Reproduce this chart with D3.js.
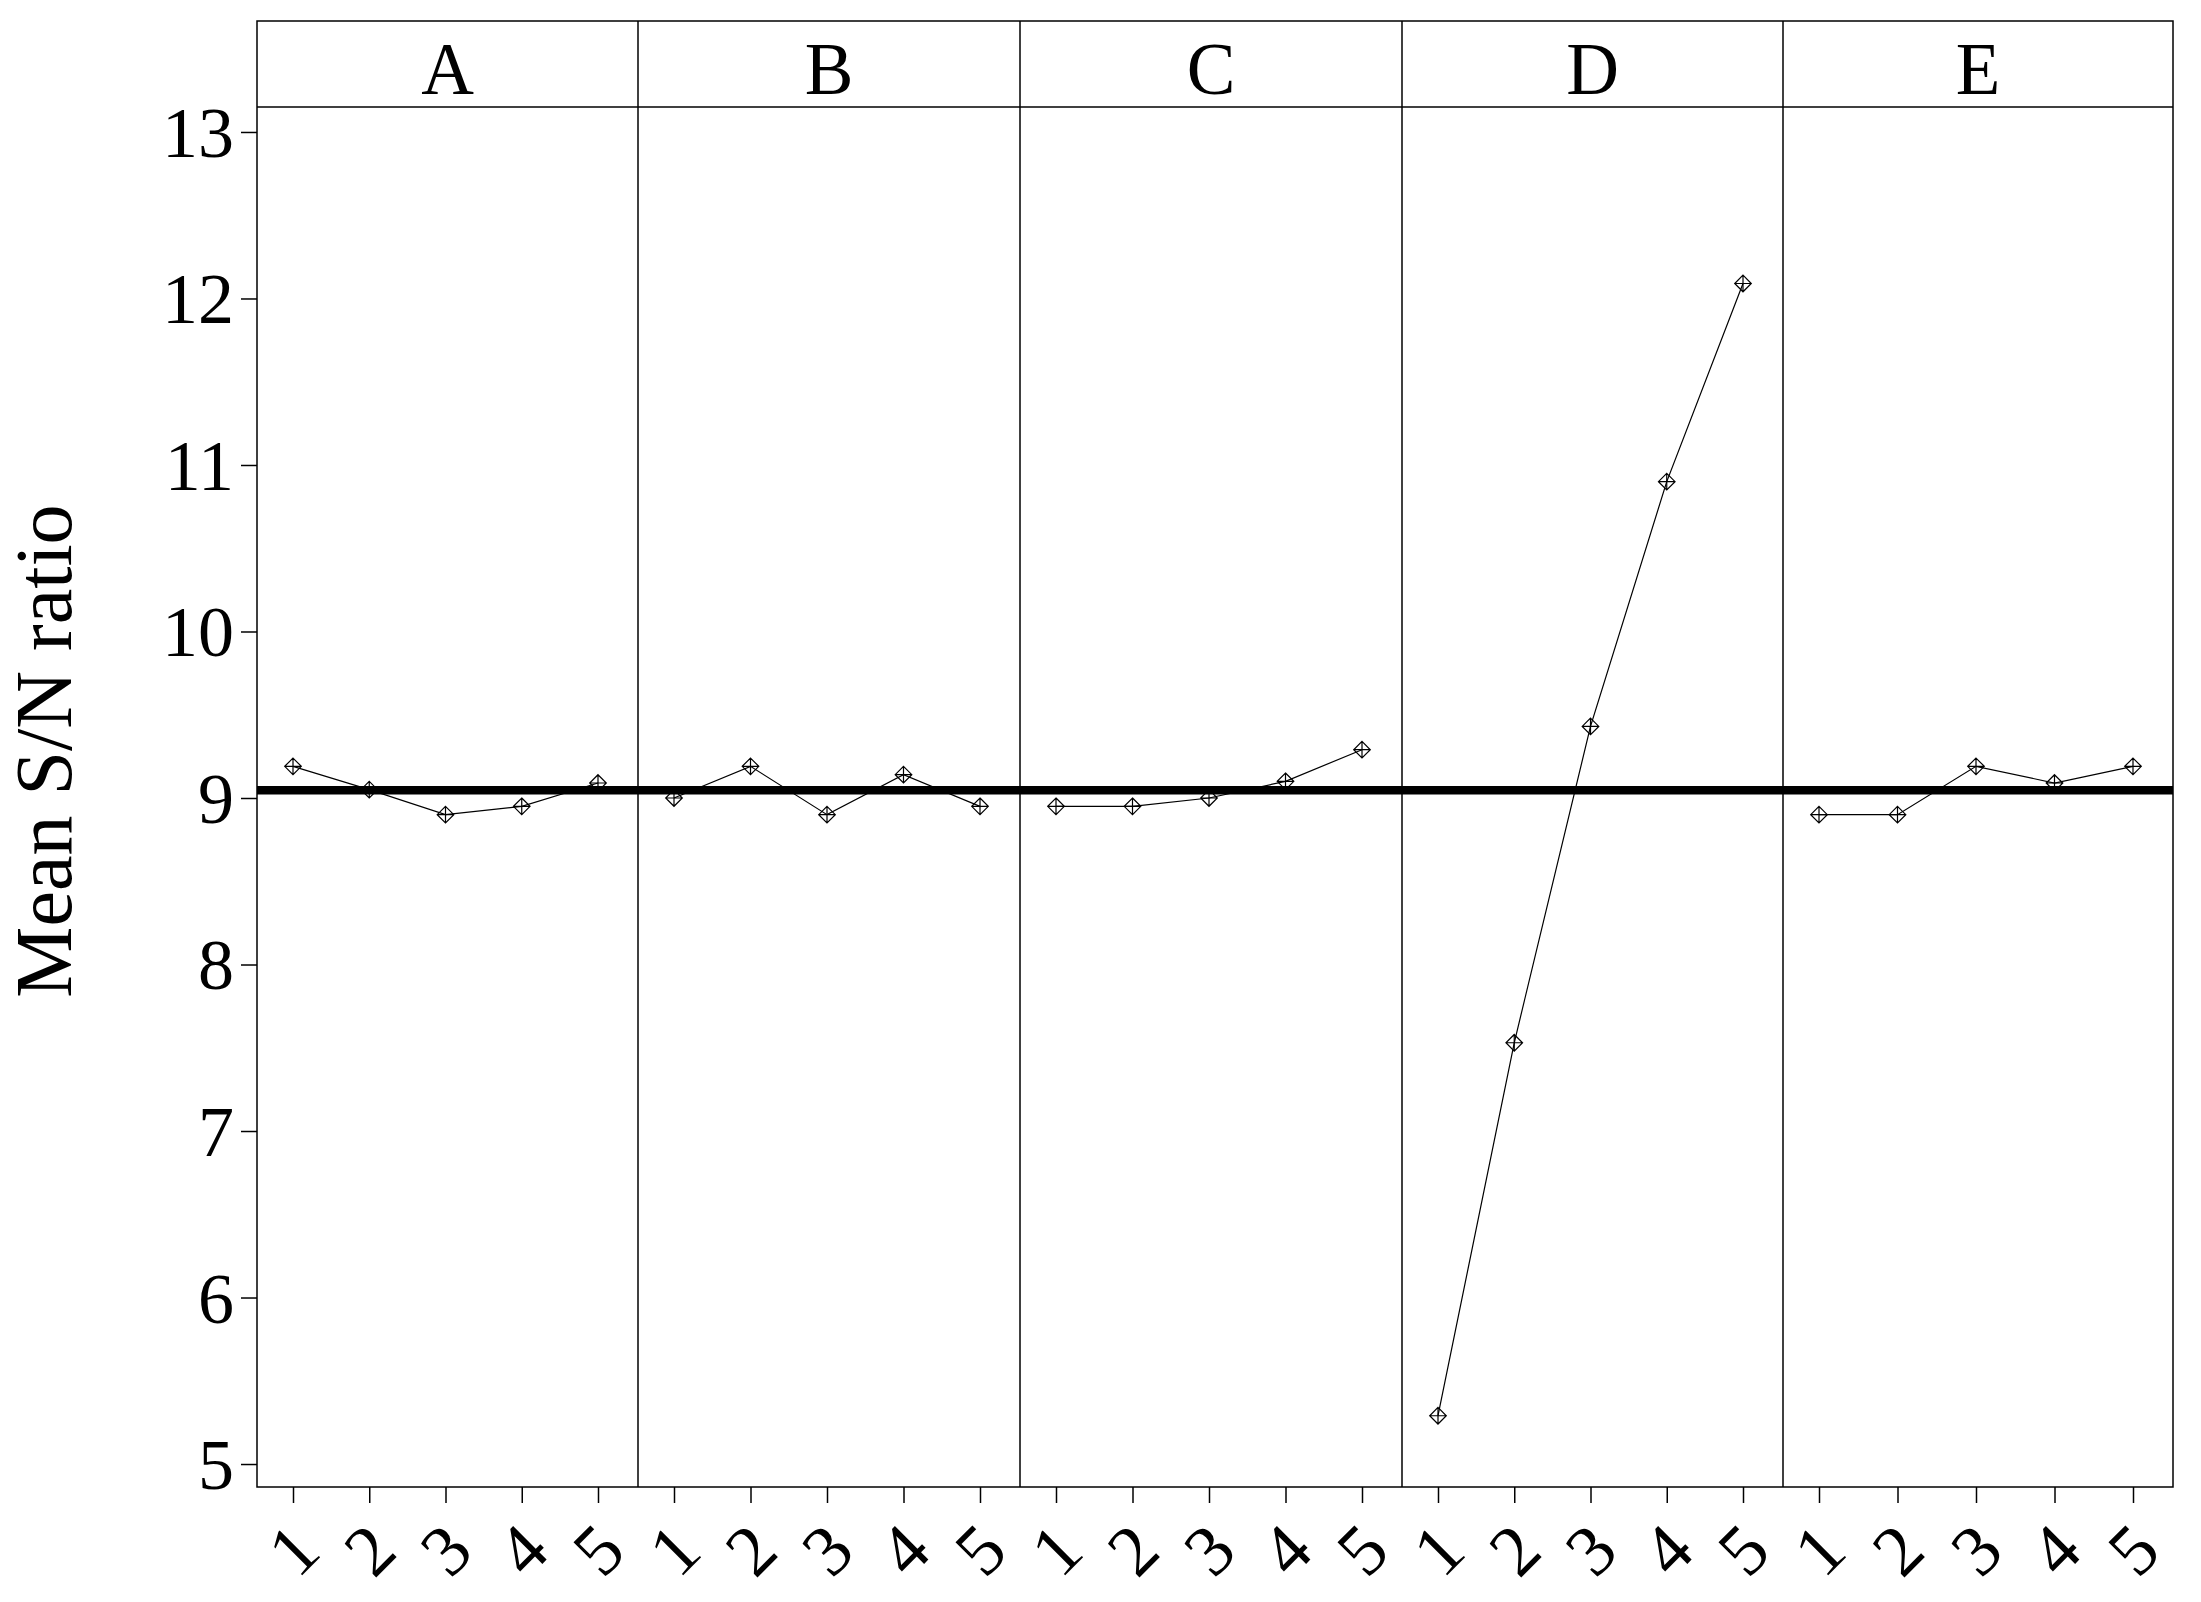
<!DOCTYPE html>
<html>
<head>
  <meta charset="UTF-8">
  <title>Main effects plot for S/N ratios</title>
  <script src="https://d3js.org/d3.v7.min.js"></script>
  <style>
    body { margin: 0; background: #fff; }
    .chart text { font-family: "Liberation Serif", "Times New Roman", serif; fill: #000; }
    .domain { display: none; }
  </style>
</head>
<body>

<div class="chart"></div>

<script>

  // data
  var factors = ['A', 'B', 'C', 'D', 'E'];
  var levels = [1, 2, 3, 4, 5];
  var snA = [9.19, 9.05, 8.90, 8.95, 9.09];
  var snB = [9.00, 9.19, 8.90, 9.14, 8.95];
  var snC = [8.95, 8.95, 9.00, 9.10, 9.29];
  var snD = [5.29, 7.53, 9.43, 10.90, 12.09];
  var snE = [8.90, 8.90, 9.19, 9.09, 9.19];
  var yTicks = [5, 6, 7, 8, 9, 10, 11, 12, 13];
  var yLabel = 'Mean S/N ratio';

  var series = [snA, snB, snC, snD, snE];
  var grandMean = d3.mean(d3.merge(series));

  // layout
  var W = 2201, H = 1602;
  var plotTop = 21, stripBottom = 107, plotBottom = 1487;
  var panelEdges = [257, 638, 1020, 1402, 1783, 2173];
  var plotLeft = panelEdges[0], plotRight = panelEdges[panelEdges.length - 1];

  var svg = d3.select('.chart')
    .append('svg')
      .attr('width', W)
      .attr('height', H);

  svg.append('rect')
    .attr('width', W)
    .attr('height', H)
    .attr('fill', '#fff');

  // Y scale
  var yScale = d3.scaleLinear()
    .domain([4.862, 13.15])
    .range([plotBottom, stripBottom]);

  var yAxis = d3.axisLeft(yScale)
    .tickValues(yTicks)
    .tickSize(16)
    .tickPadding(7)
    .tickFormat(d3.format('d'));

  var gy = svg.append('g')
    .attr('transform', `translate(${plotLeft}, 0)`)
    .call(yAxis);
  gy.selectAll('line').attr('stroke', '#000').attr('stroke-width', 1.5);
  gy.selectAll('text')
    .style('font-size', '72px')
    .attr('dy', '0.34em');

  // axis title
  svg.append('text')
    .attr('transform', 'translate(71, 751) rotate(-90)')
    .style('text-anchor', 'middle')
    .style('font-size', '80px')
    .text(yLabel);

  var panels = svg.selectAll('.panel')
    .data(factors)
    .enter()
    .append('g')
      .attr('class', 'panel')
      .attr('transform', (d, i) => `translate(${panelEdges[i]}, 0)`);

  panels.each(function (f, i) {
    var g = d3.select(this);
    var w = panelEdges[i + 1] - panelEdges[i];

    // X scale inside this panel
    var xScale = d3.scalePoint()
      .domain(levels)
      .range([36, w - 40]);

    // strip label
    g.append('text')
      .attr('x', w / 2)
      .attr('y', 94)
      .style('text-anchor', 'middle')
      .style('font-size', '73px')
      .text(f);

    // x axis
    var gx = g.append('g')
      .attr('transform', `translate(0, ${plotBottom})`)
      .call(d3.axisBottom(xScale).tickSize(16));
    gx.selectAll('line').attr('stroke', '#000').attr('stroke-width', 1.5);
    gx.selectAll('text')
      .attr('y', null)
      .attr('dy', null)
      .attr('transform', 'translate(0, 63) rotate(-45)')
      .attr('dominant-baseline', 'central')
      .style('text-anchor', 'middle')
      .style('font-size', '72px');

    // data line
    var line = d3.line()
      .x((d, j) => xScale(levels[j]))
      .y(d => yScale(d));

    g.append('path')
      .datum(series[i])
      .attr('d', line)
      .attr('fill', 'none')
      .attr('stroke', '#000')
      .attr('stroke-width', 1.2);

    // diamond markers with a cross
    var s = 8.3;
    g.selectAll('.mark')
      .data(series[i])
      .enter()
      .append('path')
        .attr('class', 'mark')
        .attr('transform', (d, j) => `translate(${xScale(levels[j])}, ${yScale(d)})`)
        .attr('d', `M0,${-s}L${s},0L0,${s}L${-s},0Z M0,${-s}V${s} M${-s},0H${s}`)
        .attr('fill', 'none')
        .attr('stroke', '#000')
        .attr('stroke-width', 1.2);
  });

  // frame, strip and panel borders
  svg.append('rect')
    .attr('x', plotLeft)
    .attr('y', plotTop)
    .attr('width', plotRight - plotLeft)
    .attr('height', plotBottom - plotTop)
    .attr('fill', 'none')
    .attr('stroke', '#000')
    .attr('stroke-width', 1.5);

  svg.append('line')
    .attr('x1', plotLeft).attr('x2', plotRight)
    .attr('y1', stripBottom).attr('y2', stripBottom)
    .attr('stroke', '#000')
    .attr('stroke-width', 1.5);

  svg.selectAll('.sep')
    .data(panelEdges.slice(1, -1))
    .enter()
    .append('line')
      .attr('class', 'sep')
      .attr('x1', d => d)
      .attr('x2', d => d)
      .attr('y1', plotTop)
      .attr('y2', plotBottom)
      .attr('stroke', '#000')
      .attr('stroke-width', 1.5);

  // grand mean reference line, drawn on top
  svg.append('line')
    .attr('x1', plotLeft).attr('x2', plotRight)
    .attr('y1', yScale(grandMean)).attr('y2', yScale(grandMean))
    .attr('stroke', '#000')
    .attr('stroke-width', 8.5);

</script>

</body>
</html>
